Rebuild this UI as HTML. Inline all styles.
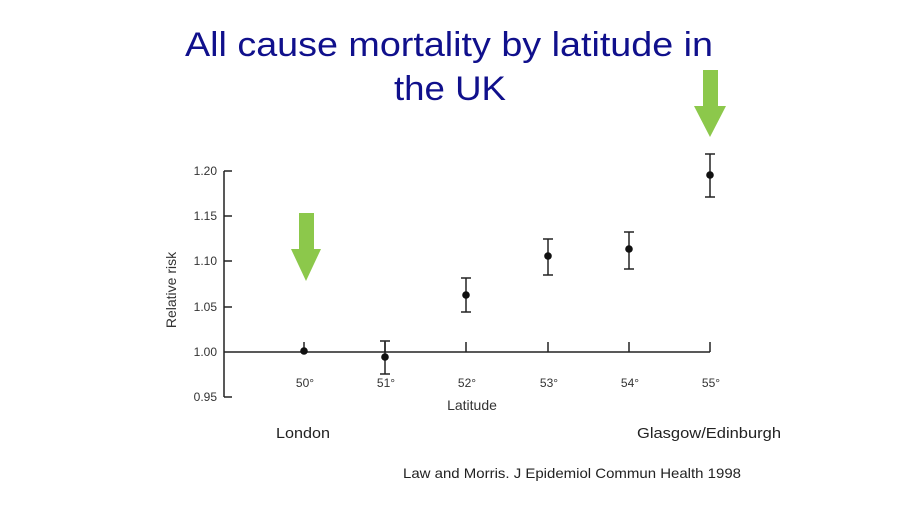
<!DOCTYPE html>
<html><head><meta charset="utf-8"><style>
html,body{margin:0;padding:0;background:#fff;}
svg{display:block;}
</style></head><body>
<svg width="900" height="506" viewBox="0 0 900 506" xmlns="http://www.w3.org/2000/svg" font-family="Liberation Sans, sans-serif">
<rect width="900" height="506" fill="#fff"/>
<text x="449" y="56" font-size="34" fill="#10108c" text-anchor="middle" textLength="528" lengthAdjust="spacingAndGlyphs">All cause mortality by latitude in</text>
<text x="450" y="100" font-size="34" fill="#10108c" text-anchor="middle" textLength="112" lengthAdjust="spacingAndGlyphs">the UK</text>
<polygon points="703,70 718,70 718,106 726,106 710,137 694,106 703,106" fill="#8cc84b"/>
<polygon points="299,213 314,213 314,249 321,249 306,281 291,249 299,249" fill="#8cc84b"/>
<g stroke="#222" stroke-width="1.5" fill="none">
<line x1="224" y1="171" x2="224" y2="397"/>
<line x1="224" y1="352" x2="710" y2="352"/>
<line x1="224" y1="171" x2="232" y2="171"/>
<line x1="224" y1="216" x2="232" y2="216"/>
<line x1="224" y1="261" x2="232" y2="261"/>
<line x1="224" y1="307" x2="232" y2="307"/>
<line x1="224" y1="397" x2="232" y2="397"/>
<line x1="304" y1="342" x2="304" y2="352"/>
<line x1="385" y1="342" x2="385" y2="352"/>
<line x1="466" y1="342" x2="466" y2="352"/>
<line x1="548" y1="342" x2="548" y2="352"/>
<line x1="629" y1="342" x2="629" y2="352"/>
<line x1="710" y1="342" x2="710" y2="352"/>
</g>
<g font-size="12" fill="#333" text-anchor="end">
<text x="217" y="175">1.20</text>
<text x="217" y="220">1.15</text>
<text x="217" y="265">1.10</text>
<text x="217" y="311">1.05</text>
<text x="217" y="356">1.00</text>
<text x="217" y="401">0.95</text>
</g>
<g font-size="12" fill="#333" text-anchor="middle">
<text x="305" y="387">50°</text>
<text x="386" y="387">51°</text>
<text x="467" y="387">52°</text>
<text x="549" y="387">53°</text>
<text x="630" y="387">54°</text>
<text x="711" y="387">55°</text>
<text x="472" y="410" font-size="14">Latitude</text>
<text transform="translate(176,290) rotate(-90)" font-size="14">Relative risk</text>
</g>
<g stroke="#222" stroke-width="1.5">
<line x1="385" y1="341" x2="385" y2="374"/><line x1="380" y1="341" x2="390" y2="341"/><line x1="380" y1="374" x2="390" y2="374"/>
<line x1="466" y1="278" x2="466" y2="312"/><line x1="461" y1="278" x2="471" y2="278"/><line x1="461" y1="312" x2="471" y2="312"/>
<line x1="548" y1="239" x2="548" y2="275"/><line x1="543" y1="239" x2="553" y2="239"/><line x1="543" y1="275" x2="553" y2="275"/>
<line x1="629" y1="232" x2="629" y2="269"/><line x1="624" y1="232" x2="634" y2="232"/><line x1="624" y1="269" x2="634" y2="269"/>
<line x1="710" y1="154" x2="710" y2="197"/><line x1="705" y1="154" x2="715" y2="154"/><line x1="705" y1="197" x2="715" y2="197"/>
</g>
<g fill="#111">
<circle cx="304" cy="351" r="3.8"/>
<circle cx="385" cy="357" r="3.8"/>
<circle cx="466" cy="295" r="3.8"/>
<circle cx="548" cy="256" r="3.8"/>
<circle cx="629" cy="249" r="3.8"/>
<circle cx="710" cy="175" r="3.8"/>
</g>
<g font-size="15" fill="#222">
<text x="276" y="438" textLength="54" lengthAdjust="spacingAndGlyphs">London</text>
<text x="637" y="438" textLength="144" lengthAdjust="spacingAndGlyphs">Glasgow/Edinburgh</text>
<text x="403" y="478" font-size="14" textLength="338" lengthAdjust="spacingAndGlyphs">Law and Morris.  J Epidemiol Commun Health 1998</text>
</g>
</svg>
</body></html>
